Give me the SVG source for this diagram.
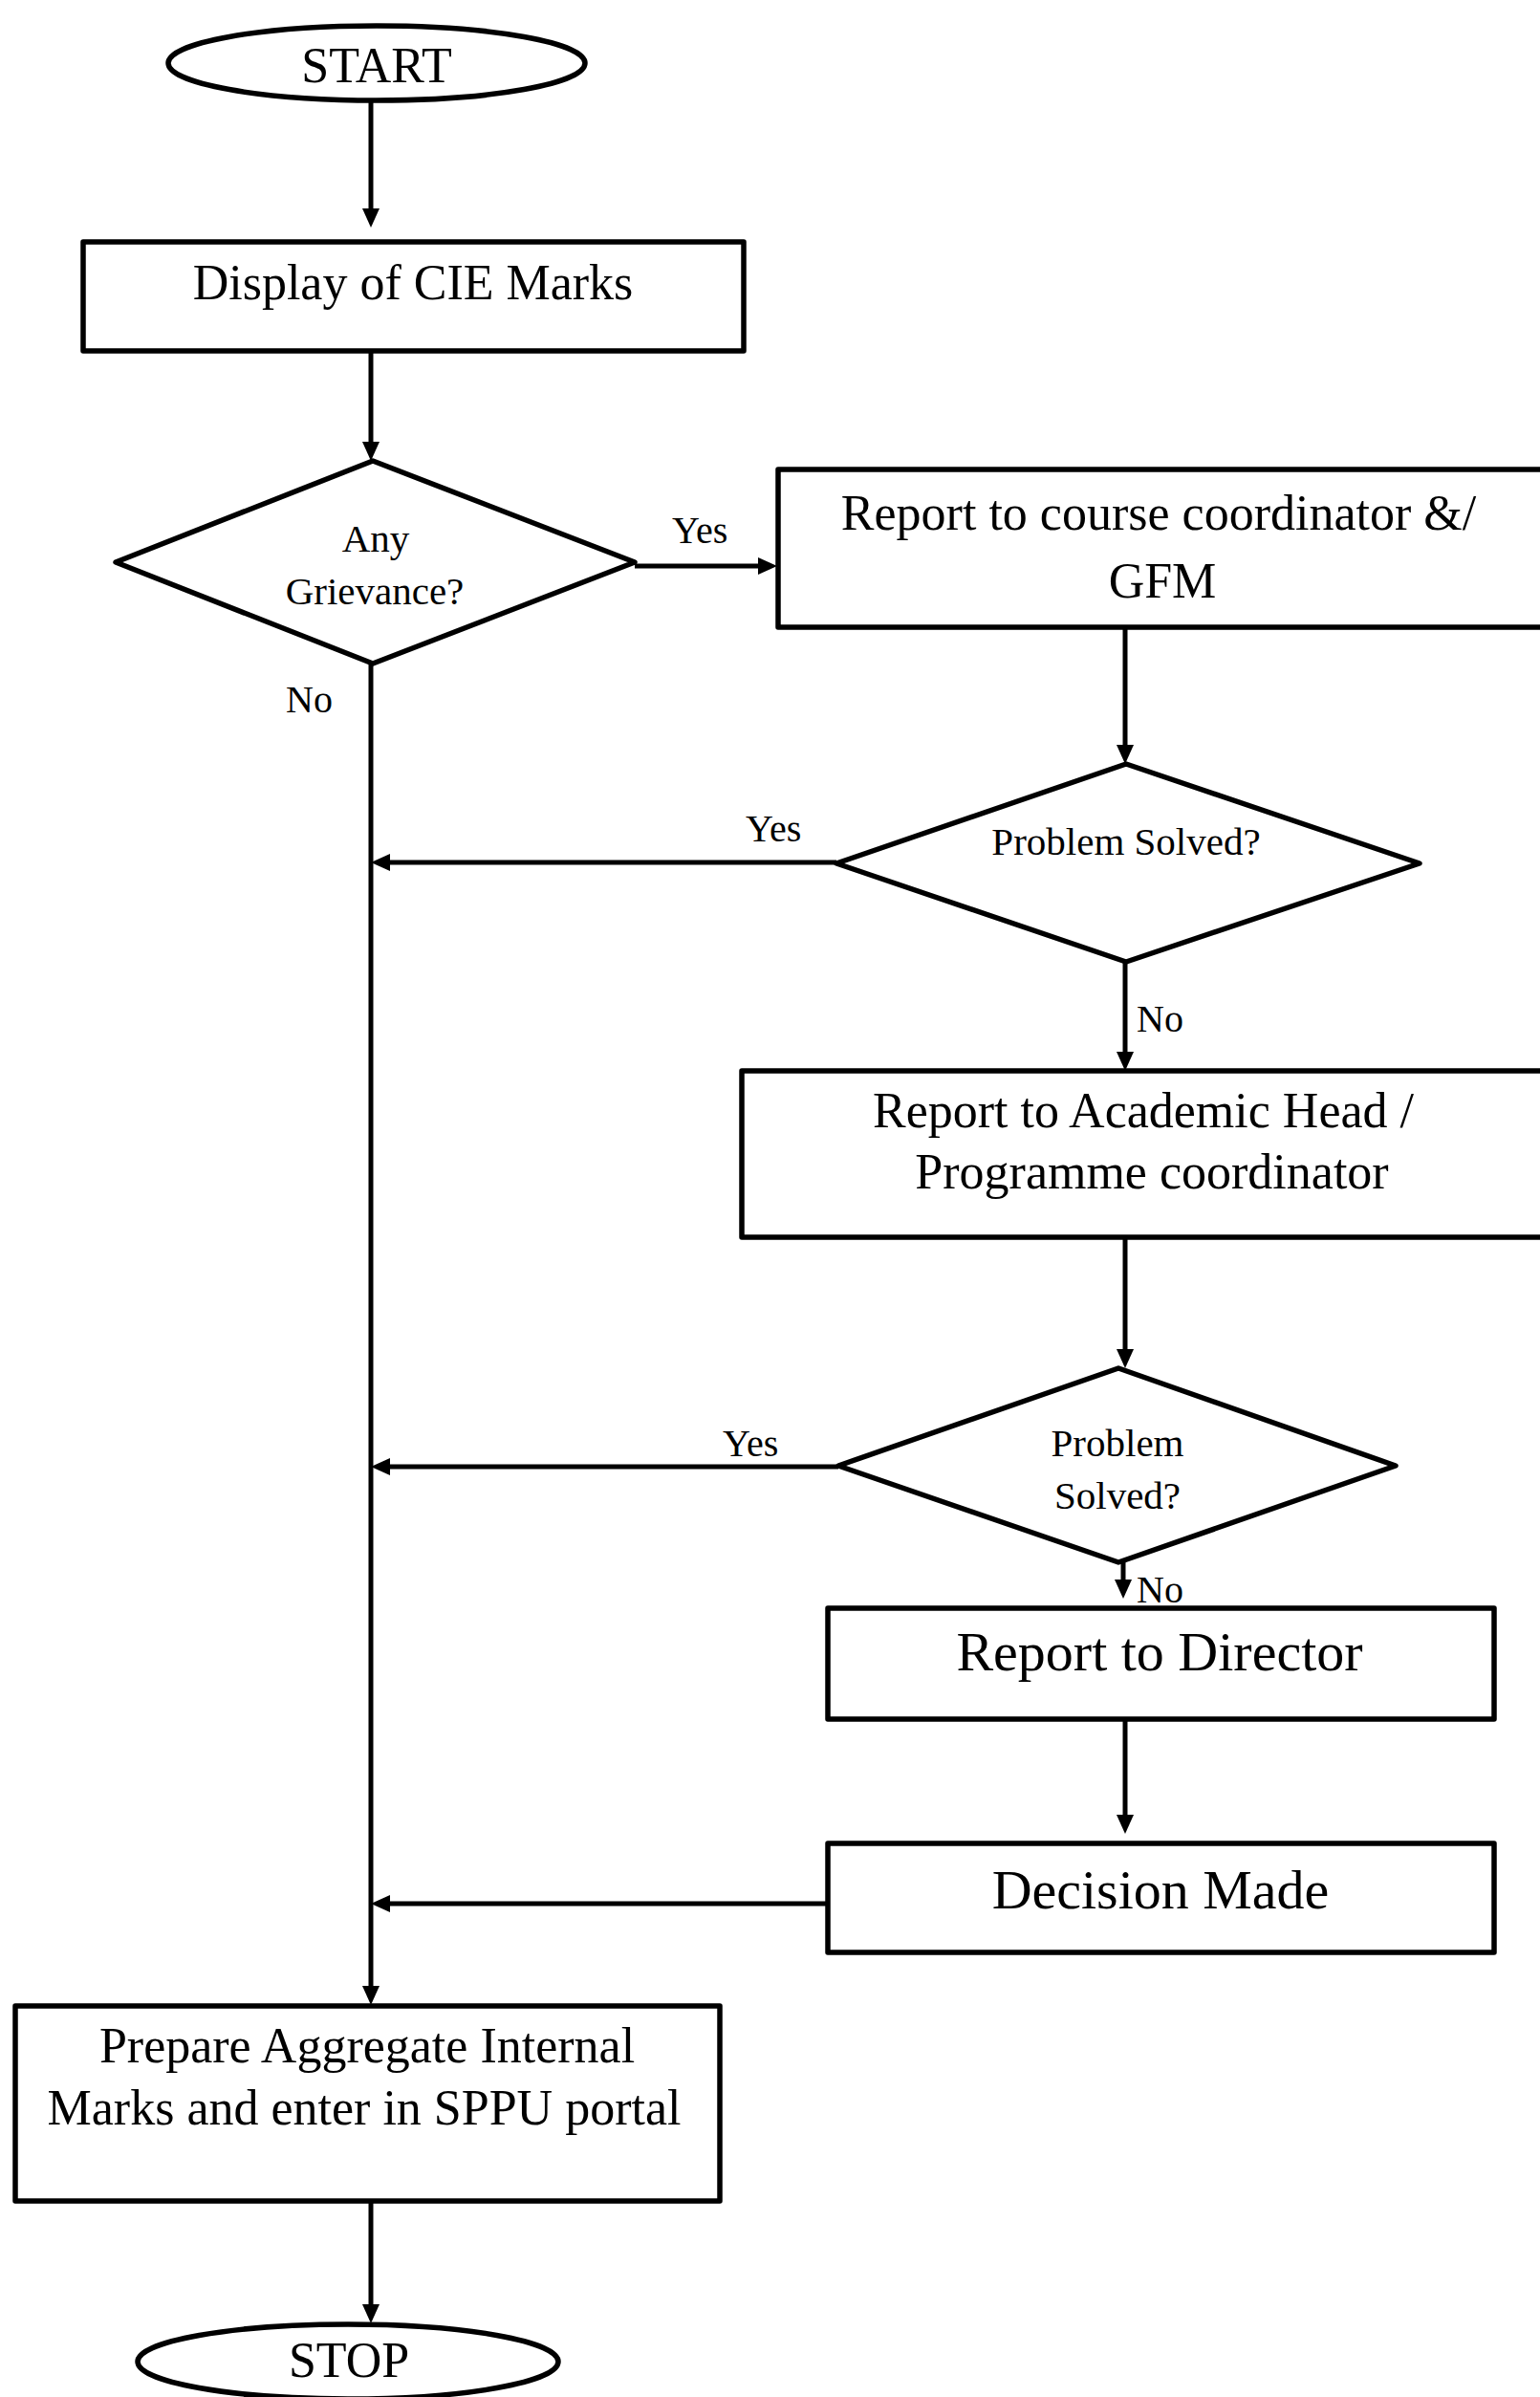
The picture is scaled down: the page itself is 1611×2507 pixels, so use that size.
<svg xmlns="http://www.w3.org/2000/svg" width="1611" height="2507" viewBox="0 0 1611 2507">
<style>
  .shape { fill: #ffffff; stroke: #000000; stroke-width: 5.5; stroke-linejoin: round; }
  .conn { fill: none; stroke: #000000; stroke-width: 5; }
  .t { font-family: "Liberation Serif", "Times New Roman", serif; fill: #000000; text-anchor: middle; }
  .big { font-size: 52px; }
  .xl { font-size: 58px; }
  .mid { font-size: 41px; }
  .lbl { font-family: "Liberation Serif", "Times New Roman", serif; fill: #000000; font-size: 40px; }
</style>
<defs>
  <marker id="ah" markerUnits="userSpaceOnUse" markerWidth="20" markerHeight="20" viewBox="0 0 20 18" refX="8" refY="9" orient="auto">
    <path d="M0,0 L20,9 L0,18 z" fill="#000000"/>
  </marker>
</defs>
<rect width="1611" height="2507" fill="#ffffff"/>

<g id="connectors">
  <path class="conn" d="M388,105 L388,226" marker-end="url(#ah)"/>
  <path class="conn" d="M388,367 L388,470" marker-end="url(#ah)"/>
  <path class="conn" d="M664,592 L801,592" marker-end="url(#ah)"/>
  <path class="conn" d="M1177,656 L1177,787" marker-end="url(#ah)"/>
  <path class="conn" d="M875,902 L400,902" marker-end="url(#ah)"/>
  <path class="conn" d="M1177,1006 L1177,1108" marker-end="url(#ah)"/>
  <path class="conn" d="M1177,1294 L1177,1419" marker-end="url(#ah)"/>
  <path class="conn" d="M877,1534 L400,1534" marker-end="url(#ah)"/>
  <path class="conn" d="M1175,1634 L1175,1660" marker-end="url(#ah)"/>
  <path class="conn" d="M1177,1798 L1177,1906" marker-end="url(#ah)"/>
  <path class="conn" d="M866,1991 L400,1991" marker-end="url(#ah)"/>
  <path class="conn" d="M388,694 L388,2085" marker-end="url(#ah)"/>
  <path class="conn" d="M388,2302 L388,2418" marker-end="url(#ah)"/>
  <text class="lbl" x="703" y="568">Yes</text>
  <text class="lbl" x="299" y="745">No</text>
  <text class="lbl" x="780" y="880">Yes</text>
  <text class="lbl" x="1189" y="1079">No</text>
  <text class="lbl" x="756" y="1523">Yes</text>
  <text class="lbl" x="1189" y="1676">No</text>
</g>

<g id="start">
  <ellipse class="shape" cx="394" cy="66" rx="218" ry="39"/>
  <text class="t big" x="394" y="86">START</text>
</g>

<g id="display">
  <rect class="shape" x="87" y="253" width="691" height="114"/>
  <text class="t big" x="432" y="313">Display of CIE Marks</text>
</g>

<g id="grievance">
  <polygon class="shape" points="390,482 664,588 390,694 121,588"/>
  <text class="t mid" x="393" y="577">Any</text>
  <text class="t mid" x="392" y="632">Grievance?</text>
</g>

<g id="course-coordinator">
  <rect class="shape" x="814" y="491" width="800" height="165"/>
  <text class="t big" x="1212" y="554">Report to course coordinator &amp;/</text>
  <text class="t big" x="1216" y="625">GFM</text>
</g>

<g id="solved1">
  <polygon class="shape" points="1178,799 1485,903 1178,1006 875,903"/>
  <text class="t mid" x="1178" y="894">Problem Solved?</text>
</g>

<g id="academic-head">
  <rect class="shape" x="776" y="1120" width="848" height="174"/>
  <text class="t big" x="1196" y="1179">Report to Academic Head /</text>
  <text class="t big" x="1205" y="1243">Programme coordinator</text>
</g>

<g id="solved2">
  <polygon class="shape" points="1170,1431 1460,1533 1170,1634 877,1533"/>
  <text class="t mid" x="1169" y="1523">Problem</text>
  <text class="t mid" x="1169" y="1578">Solved?</text>
</g>

<g id="director">
  <rect class="shape" x="866" y="1682" width="697" height="116"/>
  <text class="t xl" x="1213" y="1747">Report to Director</text>
</g>

<g id="decision">
  <rect class="shape" x="866" y="1928" width="697" height="114"/>
  <text class="t xl" x="1214" y="1996">Decision Made</text>
</g>

<g id="prepare">
  <rect class="shape" x="16" y="2098" width="737" height="204"/>
  <text class="t big" x="384" y="2157">Prepare Aggregate Internal</text>
  <text class="t big" x="381" y="2222">Marks and enter in SPPU portal</text>
</g>

<g id="stop">
  <ellipse class="shape" cx="364" cy="2470" rx="220" ry="39"/>
  <text class="t big" x="365" y="2486">STOP</text>
</g>
</svg>
